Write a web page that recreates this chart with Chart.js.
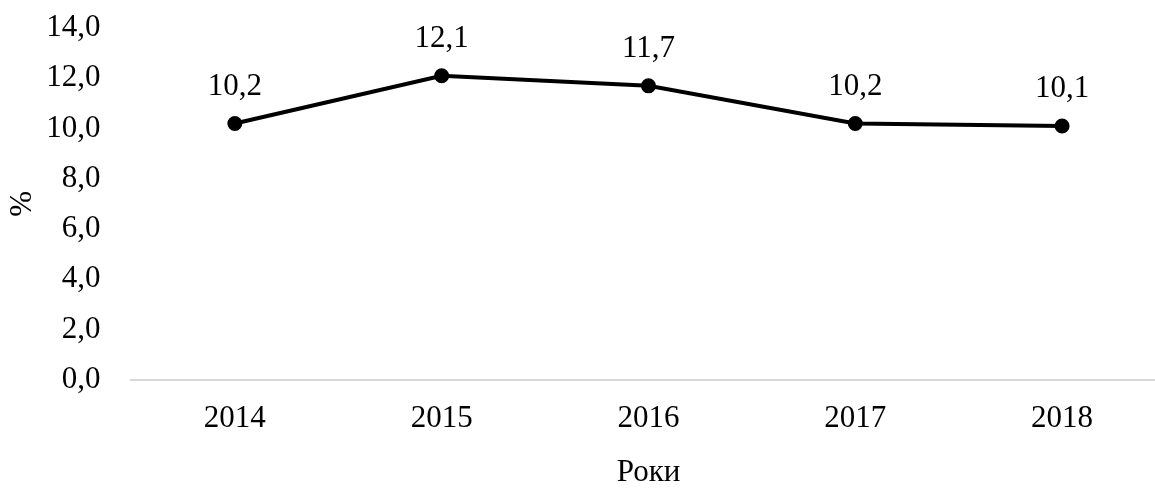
<!DOCTYPE html>
<html>
<head>
<meta charset="utf-8">
<script src="https://cdn.jsdelivr.net/npm/chart.js@4"></script>
<style>
  html, body { margin: 0; padding: 0; background: #fff; overflow: hidden; }
</style>
</head>
<body>
<canvas id="chart" width="1175" height="491"></canvas>
<script>
const years = ["2014", "2015", "2016", "2017", "2018"];
const values = [10.2, 12.1, 11.7, 10.2, 10.1];
const yTicks = [0, 2, 4, 6, 8, 10, 12, 14];

const FONT = "'Liberation Serif', 'Times New Roman', serif";
const SIZE = 31;
const fmt = v => v.toFixed(1).replace(".", ",");

// draws the value above each point
const valueLabels = {
  id: "valueLabels",
  afterDatasetsDraw(chart) {
    const ctx = chart.ctx;
    const meta = chart.getDatasetMeta(0);
    ctx.save();
    ctx.font = SIZE + "px " + FONT;
    ctx.fillStyle = "#000";
    ctx.textAlign = "center";
    ctx.textBaseline = "middle";
    meta.data.forEach((pt, i) => {
      ctx.fillText(fmt(values[i]), pt.x, pt.y - 37);
    });
    ctx.restore();
  }
};

new Chart(document.getElementById("chart"), {
  type: "line",
  data: {
    labels: years,
    datasets: [{
      data: values,
      borderColor: "#000",
      backgroundColor: "#000",
      borderWidth: 4,
      pointRadius: 5.5,
      pointHoverRadius: 5.5,
      tension: 0
    }]
  },
  options: {
    responsive: false,
    animation: false,
    layout: { padding: { top: 0, left: 4, right: 0, bottom: 0 } },
    plugins: {
      legend: { display: false },
      tooltip: { enabled: false }
    },
    scales: {
      x: {
        offset: true,
        grid: { display: false },
        border: { display: true, color: "#d9d9d9", width: 2 },
        ticks: { color: "#000", font: { family: FONT, size: SIZE }, padding: 13 },
        title: {
          display: true, text: "Роки", color: "#000",
          font: { family: FONT, size: SIZE }, padding: { top: 3, bottom: 0 }
        }
      },
      y: {
        min: 0,
        max: 14,
        afterBuildTicks: axis => { axis.ticks = yTicks.map(v => ({ value: v })); },
        grid: { display: false },
        border: { display: false },
        ticks: {
          color: "#000", font: { family: FONT, size: SIZE, lineHeight: 0.33 }, padding: 23,
          callback: v => fmt(v)
        },
        title: {
          display: true, text: "%", color: "#000",
          font: { family: FONT, size: SIZE }, padding: { top: 0, bottom: -18 }
        }
      }
    }
  },
  plugins: [valueLabels]
});
</script>
</body>
</html>
